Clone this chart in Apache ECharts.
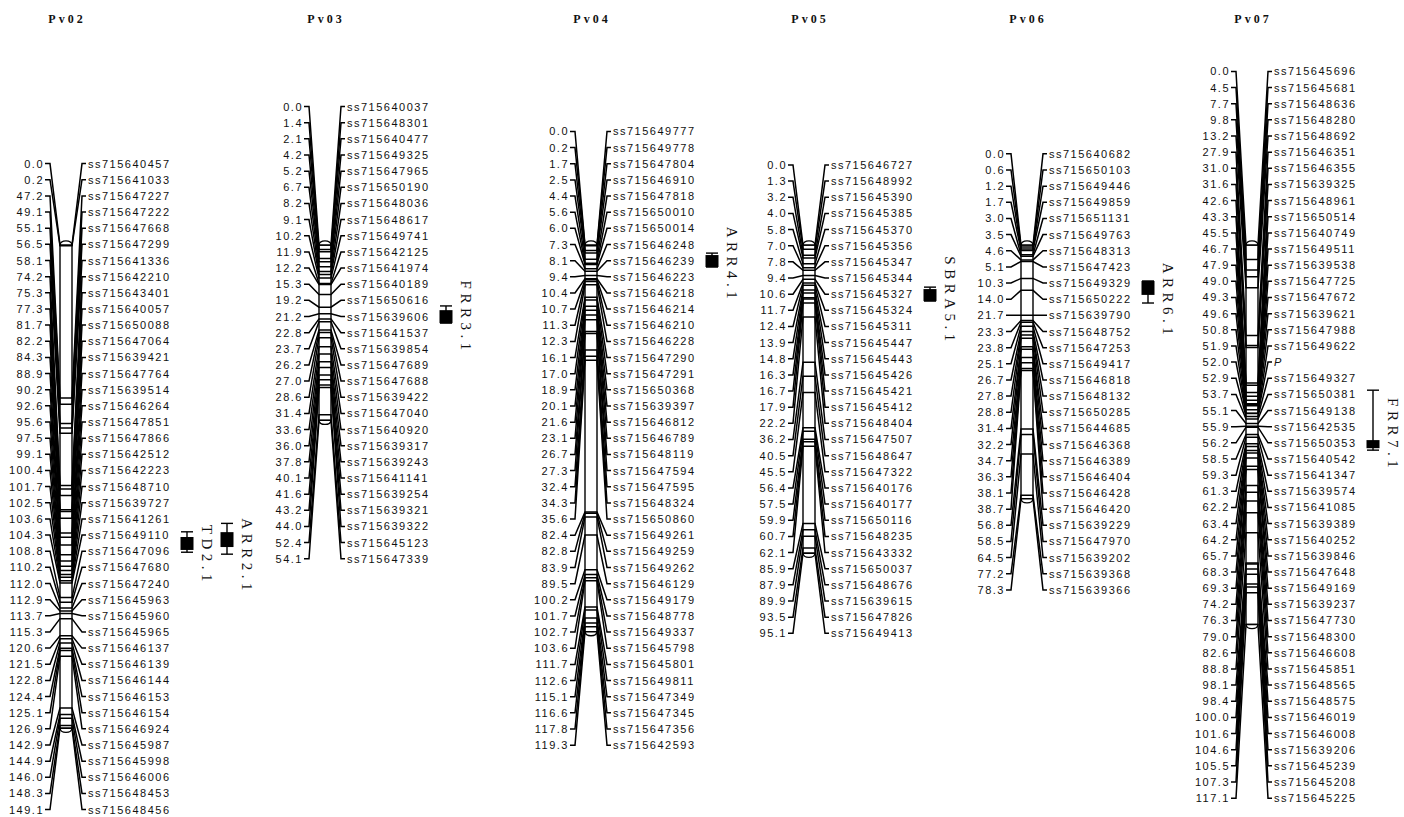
<!DOCTYPE html>
<html><head><meta charset="utf-8">
<script src="https://cdn.jsdelivr.net/npm/echarts@6/dist/echarts.min.js"></script>
<style>
html,body{margin:0;padding:0;background:#fff;}
#chart{width:1404px;height:817px;}
#chart svg text{letter-spacing:1.5px;}
#chart svg text[style*="Serif"]{letter-spacing:4.5px;}
#chart svg text[style*="bold"]{letter-spacing:3px;}
</style></head><body><div id="chart"></div>
<script>
// ---------- data ----------
const chromNames = ['Pv02','Pv03','Pv04','Pv05','Pv06','Pv07'];

const pv02Pos = [0.0,0.2,47.2,49.1,55.1,56.5,58.1,74.2,75.3,77.3,81.7,82.2,84.3,88.9,90.2,92.6,95.6,97.5,99.1,100.4,101.7,102.5,103.6,104.3,108.8,110.2,112.0,112.9,113.7,115.3,120.6,121.5,122.8,124.4,125.1,126.9,142.9,144.9,146.0,148.3,149.1];
const pv02Markers = ['ss715640457','ss715641033','ss715647227','ss715647222','ss715647668','ss715647299','ss715641336','ss715642210','ss715643401','ss715640057','ss715650088','ss715647064','ss715639421','ss715647764','ss715639514','ss715646264','ss715647851','ss715647866','ss715642512','ss715642223','ss715648710','ss715639727','ss715641261','ss715649110','ss715647096','ss715647680','ss715647240','ss715645963','ss715645960','ss715645965','ss715646137','ss715646139','ss715646144','ss715646153','ss715646154','ss715646924','ss715645987','ss715645998','ss715646006','ss715648453','ss715648456'];

const pv03Pos = [0.0,1.4,2.1,4.2,5.2,6.7,8.2,9.1,10.2,11.9,12.2,15.3,19.2,21.2,22.8,23.7,26.2,27.0,28.6,31.4,33.6,36.0,37.8,40.1,41.6,43.2,44.0,52.4,54.1];
const pv03Markers = ['ss715640037','ss715648301','ss715640477','ss715649325','ss715647965','ss715650190','ss715648036','ss715648617','ss715649741','ss715642125','ss715641974','ss715640189','ss715650616','ss715639606','ss715641537','ss715639854','ss715647689','ss715647688','ss715639422','ss715647040','ss715640920','ss715639317','ss715639243','ss715641141','ss715639254','ss715639321','ss715639322','ss715645123','ss715647339'];

const pv04Pos = [0.0,0.2,1.7,2.5,4.4,5.6,6.0,7.3,8.1,9.4,10.4,10.7,11.3,12.3,16.1,17.0,18.9,20.1,21.6,23.1,26.7,27.3,32.4,34.3,35.6,82.4,82.8,83.9,89.5,100.2,101.7,102.7,103.6,111.7,112.6,115.1,116.6,117.8,119.3];
const pv04Markers = ['ss715649777','ss715649778','ss715647804','ss715646910','ss715647818','ss715650010','ss715650014','ss715646248','ss715646239','ss715646223','ss715646218','ss715646214','ss715646210','ss715646228','ss715647290','ss715647291','ss715650368','ss715639397','ss715646812','ss715646789','ss715648119','ss715647594','ss715647595','ss715648324','ss715650860','ss715649261','ss715649259','ss715649262','ss715646129','ss715649179','ss715648778','ss715649337','ss715645798','ss715645801','ss715649811','ss715647349','ss715647345','ss715647356','ss715642593'];

const pv05Pos = [0.0,1.3,3.2,4.0,5.8,7.0,7.8,9.4,10.6,11.7,12.4,13.9,14.8,16.3,16.7,17.9,22.2,36.2,40.5,45.5,56.4,57.5,59.9,60.7,62.1,85.9,87.9,89.9,93.5,95.1];
const pv05Markers = ['ss715646727','ss715648992','ss715645390','ss715645385','ss715645370','ss715645356','ss715645347','ss715645344','ss715645327','ss715645324','ss715645311','ss715645447','ss715645443','ss715645426','ss715645421','ss715645412','ss715648404','ss715647507','ss715648647','ss715647322','ss715640176','ss715640177','ss715650116','ss715648235','ss715643332','ss715650037','ss715648676','ss715639615','ss715647826','ss715649413'];

const pv06Pos = [0.0,0.6,1.2,1.7,3.0,3.5,4.6,5.1,10.3,14.0,21.7,23.3,23.8,25.1,26.7,27.8,28.8,31.4,32.2,34.7,36.3,38.1,38.7,56.8,58.5,64.5,77.2,78.3];
const pv06Markers = ['ss715640682','ss715650103','ss715649446','ss715649859','ss715651131','ss715649763','ss715648313','ss715647423','ss715649329','ss715650222','ss715639790','ss715648752','ss715647253','ss715649417','ss715646818','ss715648132','ss715650285','ss715644685','ss715646368','ss715646389','ss715646404','ss715646428','ss715646420','ss715639229','ss715647970','ss715639202','ss715639368','ss715639366'];

const pv07Pos = [0.0,4.5,7.7,9.8,13.2,27.9,31.0,31.6,42.6,43.3,45.5,46.7,47.9,49.0,49.3,49.6,50.8,51.9,52.0,52.9,53.7,55.1,55.9,56.2,58.5,59.3,61.3,62.2,63.4,64.2,65.7,68.3,69.3,74.2,76.3,79.0,82.6,88.8,98.1,98.4,100.0,101.6,104.6,105.5,107.3,117.1];
const pv07Markers = ['ss715645696','ss715645681','ss715648636','ss715648280','ss715648692','ss715646351','ss715646355','ss715639325','ss715648961','ss715650514','ss715640749','ss715649511','ss715639538','ss715647725','ss715647672','ss715639621','ss715647988','ss715649622','P','ss715649327','ss715650381','ss715649138','ss715642535','ss715650353','ss715640542','ss715641347','ss715639574','ss715641085','ss715639389','ss715640252','ss715639846','ss715647648','ss715649169','ss715639237','ss715647730','ss715648300','ss715646608','ss715645851','ss715648565','ss715648575','ss715646019','ss715646008','ss715639206','ss715645239','ss715645208','ss715645225'];

// QTL intervals (cM): outer = whiskers, inner = box
const qtlNames = ['TD2.1','ARR2.1','FRR3.1','ARR4.1','SBRA5.1','ARR6.1','FRR7.1'];
const qtlChrom = ['Pv02','Pv02','Pv03','Pv04','Pv05','Pv06','Pv07'];
const qtlOuterStart = [88.5, 85.9, 18.8, 2.5, 13.0, 11.1, 44.8];
const qtlInnerStart = [90.1, 88.6, 20.1, 3.1, 13.6, 11.1, 60.2];
const qtlInnerEnd   = [94.1, 93.2, 24.1, 6.8, 17.3, 15.4, 62.7];
const qtlOuterEnd   = [94.8, 95.4, 24.1, 6.8, 17.3, 17.9, 63.3];

// ---------- layout (pixels) ----------
const chromCenterX = [66, 325, 591, 809, 1027, 1252];
const titleShiftX = -4;
const qtlColumn = [0, 1, 0, 0, 0, 0, 0];
const qtlLabelShift = [12, 17, 1, 4, 6, 13, -9];
const LABEL_STEP = 16.15;
const BAR_HALF = 6;

const CHROMS = [
  {pos: pv02Pos, markers: pv02Markers},
  {pos: pv03Pos, markers: pv03Markers},
  {pos: pv04Pos, markers: pv04Markers},
  {pos: pv05Pos, markers: pv05Markers},
  {pos: pv06Pos, markers: pv06Markers},
  {pos: pv07Pos, markers: pv07Markers}
];

const SANS = '11px "Liberation Sans", Arial, sans-serif';
const INK = '#111';

function renderChrom(params, api) {
  const i = params.dataIndex;
  const c = CHROMS[i];
  const n = c.pos.length;
  const px = api.coord([chromCenterX[i], 0])[0];
  const yOf = v => api.coord([chromCenterX[i], v])[1];
  const yTop = yOf(c.pos[0]);
  const yBot = yOf(c.pos[n - 1]);
  const yMid = (yTop + yBot) / 2;
  const L = px - BAR_HALF, R = px + BAR_HALF;
  const ls = {stroke: '#000', lineWidth: 1.5, fill: null};
  const children = [];
  children.push({type: 'rect', shape: {x: L, y: yTop, width: R - L, height: yBot - yTop},
    style: {fill: '#fff', stroke: '#000', lineWidth: 1.4}});
  children.push({type: 'bezierCurve', shape: {x1: L, y1: yTop, x2: R, y2: yTop,
    cpx1: L + 0.5, cpy1: yTop - 5.5, cpx2: R - 0.5, cpy2: yTop - 5.5},
    style: {fill: '#fff', stroke: '#000', lineWidth: 1.3}});
  children.push({type: 'bezierCurve', shape: {x1: L, y1: yBot, x2: R, y2: yBot,
    cpx1: L + 0.5, cpy1: yBot + 5.5, cpx2: R - 0.5, cpy2: yBot + 5.5},
    style: {fill: '#fff', stroke: '#000', lineWidth: 1.3}});
  for (let k = 0; k < n; k++) {
    const by = yOf(c.pos[k]);
    const ly = yMid + (k - (n - 1) / 2) * LABEL_STEP;
    children.push({type: 'polyline', shape: {points: [
      [px - 21, ly], [px - 16, ly], [L, by], [R, by], [px + 16, ly], [px + 20, ly]
    ]}, style: ls});
    children.push({type: 'text', x: px - 22, y: ly, style: {
      text: c.pos[k].toFixed(1), align: 'right', verticalAlign: 'middle', font: SANS, fill: INK}});
    const isItalic = c.markers[k] === 'P';
    children.push({type: 'text', x: px + 22, y: ly, style: {
      text: c.markers[k], align: 'left', verticalAlign: 'middle',
      font: (isItalic ? 'italic ' : '') + SANS, fill: INK}});
  }
  return {type: 'group', children: children};
}

function renderQtl(params, api) {
  const q = params.dataIndex;
  const ci = chromNames.indexOf(qtlChrom[q]);
  const xv = chromCenterX[ci] + 121 + qtlColumn[q] * 40;
  const x = api.coord([xv, 0])[0];
  const y = v => api.coord([xv, v])[1];
  const yOs = y(qtlOuterStart[q]), yOe = y(qtlOuterEnd[q]);
  const yIs = y(qtlInnerStart[q]), yIe = y(qtlInnerEnd[q]);
  const ls = {stroke: '#000', lineWidth: 1.4, fill: null};
  const children = [
    {type: 'line', shape: {x1: x, y1: yOs, x2: x, y2: yOe}, style: ls},
    {type: 'line', shape: {x1: x - 6, y1: yOs, x2: x + 6, y2: yOs}, style: ls},
    {type: 'line', shape: {x1: x - 6, y1: yOe, x2: x + 6, y2: yOe}, style: ls},
    {type: 'rect', shape: {x: x - 6.5, y: yIs, width: 13, height: yIe - yIs}, style: {fill: '#000'}},
    {type: 'text', x: x + 20, y: (yIs + yIe) / 2 + qtlLabelShift[q], rotation: -Math.PI / 2,
      style: {text: qtlNames[q], align: 'center', verticalAlign: 'middle',
        font: '15px "Liberation Serif", "Times New Roman", serif', fill: INK}}
  ];
  return {type: 'group', children: children};
}

const chart = echarts.init(document.getElementById('chart'), null, {renderer: 'svg'});
chart.setOption({
  backgroundColor: '#fff',
  animation: false,
  title: chromNames.map((nm, i) => ({
    text: nm, left: chromCenterX[i] + titleShiftX, top: 8, textAlign: 'center',
    textStyle: {fontFamily: 'Liberation Serif', fontWeight: 'bold', fontSize: 12, color: INK}
  })),
  grid: {left: 0, right: 0, top: 0, bottom: 0},
  xAxis: {type: 'value', min: 0, max: 1404, show: false},
  yAxis: {type: 'value', min: -75.6, max: 176.5, inverse: true, show: false},
  series: [
    {type: 'custom', clip: false, renderItem: renderChrom,
     data: chromNames.map((nm, i) => [chromCenterX[i], 0])},
    {type: 'custom', clip: false, renderItem: renderQtl,
     data: qtlNames.map((nm, q) => [0, qtlInnerStart[q]])}
  ]
});
</script></body></html>
